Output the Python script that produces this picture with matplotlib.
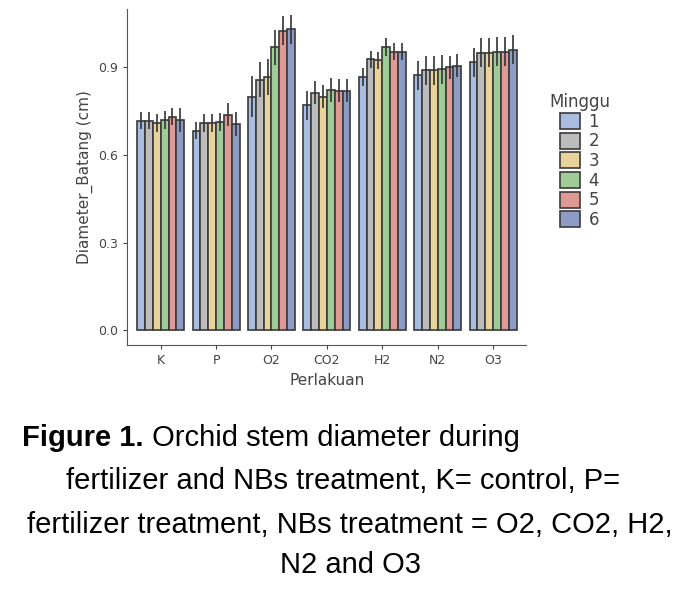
import matplotlib
matplotlib.use("Agg")
import matplotlib.pyplot as plt
import numpy as np

categories = ["K", "P", "O2", "CO2", "H2", "N2", "O3"]
weeks = ["1", "2", "3", "4", "5", "6"]
values = [
    [0.718, 0.718, 0.710, 0.720, 0.732, 0.720],
    [0.684, 0.710, 0.710, 0.714, 0.738, 0.706],
    [0.800, 0.858, 0.867, 0.969, 1.026, 1.030],
    [0.770, 0.814, 0.800, 0.822, 0.820, 0.820],
    [0.867, 0.927, 0.924, 0.970, 0.954, 0.954],
    [0.873, 0.890, 0.890, 0.894, 0.900, 0.906],
    [0.918, 0.950, 0.950, 0.954, 0.954, 0.960],
]
errors = [
    [0.03, 0.03, 0.03, 0.03, 0.03, 0.04],
    [0.03, 0.03, 0.03, 0.03, 0.04, 0.04],
    [0.07, 0.06, 0.06, 0.06, 0.05, 0.05],
    [0.05, 0.04, 0.04, 0.04, 0.04, 0.04],
    [0.03, 0.03, 0.03, 0.03, 0.03, 0.03],
    [0.05, 0.05, 0.05, 0.05, 0.04, 0.04],
    [0.05, 0.05, 0.05, 0.05, 0.05, 0.05],
]
colors = ["#a9bde0", "#bcbcbc", "#e8d49a", "#9fcb96", "#e09a96", "#8c9cc4"]

fig = plt.figure(figsize=(7, 5.95), dpi=100)
ax = fig.add_axes([0.182, 0.42, 0.57, 0.565])
n = len(weeks)
w = 0.85 / n
x = np.arange(len(categories))
vals = np.array(values)
errs = np.array(errors)
for i in range(n):
    pos = x - 0.425 + w * (i + 0.5)
    ax.bar(pos, vals[:, i], width=w, color=colors[i], edgecolor="#3a3a3a",
           linewidth=1.2, label=weeks[i])
    ax.errorbar(pos, vals[:, i], yerr=errs[:, i], fmt="none", ecolor="#333333",
                elinewidth=1.2, capsize=0)
ax.set_xlim(-0.6, 6.6)
ax.set_ylim(-0.05, 1.1)
ax.set_yticks([0.0, 0.3, 0.6, 0.9])
ax.set_yticklabels(["0.0", "0.3", "0.6", "0.9"])
ax.set_xticks(x)
ax.set_xticklabels(categories)
ax.tick_params(labelsize=9, colors="#444444", length=3)
for s in ["top", "right"]:
    ax.spines[s].set_visible(False)
for s in ["left", "bottom"]:
    ax.spines[s].set_color("#555555")
ax.set_ylabel("Diameter_Batang (cm)", fontsize=11, color="#444444")
ax.set_xlabel("Perlakuan", fontsize=11, color="#444444")
leg = ax.legend(title="Minggu", loc="upper left", bbox_to_anchor=(1.04, 0.77),
                frameon=False, fontsize=12, title_fontsize=12, handlelength=1.2,
                handleheight=1.1, labelspacing=0.1, borderaxespad=0,
                handletextpad=0.5)
leg.get_title().set_color("#444444")
for t in leg.get_texts():
    t.set_color("#444444")

cap = "Liberation Sans"
fs = 21
t1 = fig.text(22 / 700, 0.264, "Figure 1.", fontsize=fs, fontweight="bold", family=cap, va="center")
fig.canvas.draw()
bb = t1.get_window_extent()
fig.text(bb.x1 / fig.bbox.width, 0.264, " Orchid stem diameter during", fontsize=fs, family=cap, va="center")
fig.text(0.49, 0.192, "fertilizer and NBs treatment, K= control, P=", fontsize=fs, family=cap, ha="center", va="center")
fig.text(0.5, 0.118, "fertilizer treatment, NBs treatment = O2, CO2, H2,", fontsize=fs, family=cap, ha="center", va="center")
fig.text(0.5, 0.050, "N2 and O3", fontsize=fs, family=cap, ha="center", va="center")
fig.savefig("out.png", dpi=100)
